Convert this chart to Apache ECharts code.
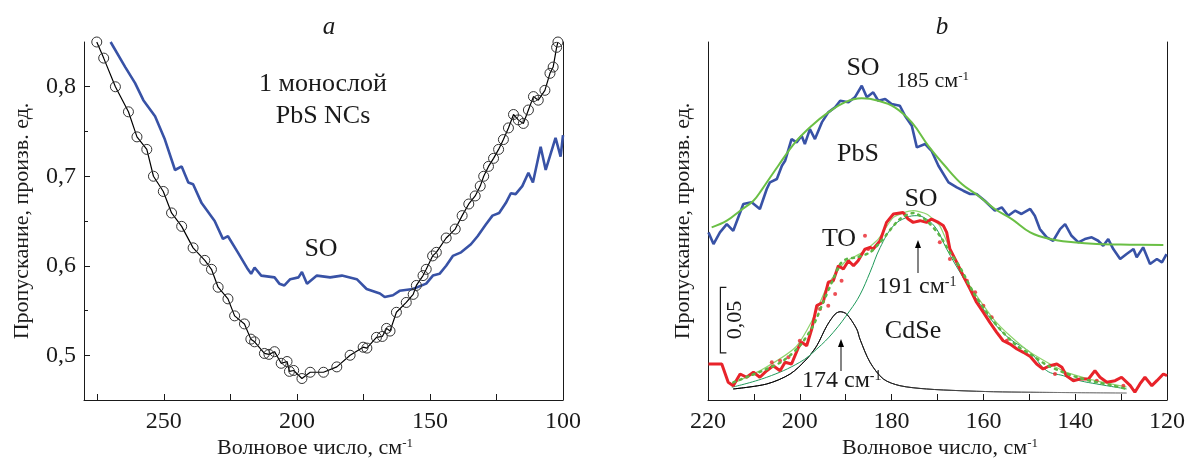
<!DOCTYPE html>
<html><head><meta charset="utf-8">
<script src="https://cdn.jsdelivr.net/npm/echarts@6/dist/echarts.min.js"></script>
<style>html,body{margin:0;padding:0;background:#fff}#c{width:1193px;height:460px}</style>
</head><body><div id="c"></div>
<script>
// ---------- Panel a data (x: cm-1, y: transmission) ----------
const aBlue = [[270.0,0.850],[264.5,0.822],[260.8,0.804],[257.7,0.785],[253.3,0.767],[249.6,0.741],[245.8,0.707],[243.3,0.711],[240.8,0.693],[239.0,0.691],[235.8,0.670],[230.9,0.650],[227.8,0.630],[225.9,0.633],[222.2,0.615],[218.4,0.596],[217.2,0.591],[215.9,0.598],[213.4,0.589],[208.4,0.587],[206.6,0.580],[204.7,0.578],[202.5,0.585],[199.4,0.587],[198.1,0.593],[196.2,0.580],[192.5,0.589],[187.5,0.587],[183.1,0.589],[177.5,0.585],[173.8,0.574],[168.8,0.569],[167.0,0.565],[163.9,0.567],[161.4,0.572],[156.4,0.574],[151.4,0.580],[148.9,0.589],[146.4,0.591],[143.9,0.600],[141.4,0.611],[138.3,0.615],[134.6,0.624],[132.1,0.633],[129.0,0.646],[126.5,0.656],[124.0,0.659],[121.5,0.670],[119.6,0.681],[117.8,0.680],[115.3,0.689],[113.0,0.704],[111.3,0.693],[108.4,0.733],[106.5,0.707],[102.8,0.743],[100.9,0.722],[100.0,0.746]];
const aBlack = [[275.2,0.850],[272.6,0.832],[268.2,0.800],[263.3,0.772],[260.1,0.744],[256.4,0.730],[253.9,0.700],[250.2,0.683],[247.1,0.659],[243.3,0.644],[239.0,0.620],[234.6,0.606],[232.1,0.596],[229.6,0.576],[225.9,0.563],[223.4,0.544],[219.7,0.535],[217.3,0.518],[215.9,0.515],[212.2,0.502],[210.5,0.501],[208.4,0.504],[205.9,0.491],[203.7,0.493],[202.8,0.482],[201.2,0.483],[198.1,0.474],[195.0,0.481],[190.0,0.481],[185.0,0.487],[180.0,0.500],[175.1,0.509],[173.7,0.508],[170.1,0.520],[167.9,0.521],[166.3,0.530],[165.0,0.527],[162.6,0.548],[158.9,0.559],[156.3,0.568],[155.1,0.578],[152.6,0.589],[151.4,0.596],[149.0,0.611],[147.6,0.615],[143.9,0.631],[140.5,0.641],[137.9,0.656],[135.4,0.669],[133.0,0.678],[131.1,0.689],[129.8,0.700],[128.0,0.711],[126.1,0.720],[124.2,0.730],[122.4,0.741],[120.5,0.754],[118.6,0.769],[116.8,0.763],[114.9,0.759],[113.0,0.774],[111.1,0.789],[109.3,0.785],[106.8,0.796],[104.9,0.815],[103.7,0.822],[102.4,0.844],[101.9,0.850]];
const aXLabels = [100,150,200,250];
const aXMinor = [125,175,225,275];
const aYLabels = [0.5,0.6,0.7,0.8];
const aYMinor = [0.55,0.65,0.75];

// ---------- Panel b data (x: cm-1, y: transmission, arbitrary offset) ----------
const bBlue = [[219.9,0.1276],[218.8,0.1187],[217.4,0.1276],[215.9,0.1339],[214.5,0.1288],[212.3,0.1492],[210.5,0.1505],[208.7,0.1454],[207.2,0.1606],[206.5,0.1657],[205.0,0.1682],[203.9,0.1783],[203.2,0.1821],[201.8,0.1986],[200.7,0.1961],[199.6,0.2011],[198.9,0.1948],[197.8,0.2062],[196.7,0.1986],[195.2,0.2113],[193.8,0.2189],[192.3,0.2228],[191.2,0.2278],[189.4,0.2266],[188.0,0.2304],[186.5,0.2392],[185.4,0.2304],[184.0,0.2342],[182.9,0.2278],[181.4,0.2291],[180.0,0.2253],[178.2,0.2240],[177.1,0.2164],[175.6,0.2088],[174.5,0.1923],[172.7,0.1948],[171.3,0.1897],[169.8,0.1783],[167.6,0.1657],[165.8,0.1619],[164.4,0.1593],[162.9,0.1568],[161.5,0.1568],[159.7,0.1517],[157.5,0.1441],[156.0,0.1466],[154.6,0.1403],[153.1,0.1441],[151.7,0.1416],[149.8,0.1454],[148.8,0.1403],[147.7,0.1301],[146.2,0.1238],[144.8,0.1212],[143.3,0.1301],[142.2,0.1339],[140.8,0.1250],[139.3,0.1200],[137.9,0.1225],[136.4,0.1238],[135.0,0.1212],[133.9,0.1174],[132.8,0.1225],[131.7,0.1149],[130.2,0.1073],[128.8,0.1111],[127.3,0.1149],[126.6,0.1086],[125.2,0.1162],[123.7,0.1035],[122.2,0.1073],[121.1,0.1048],[120.1,0.1111]];
const bPbsFit = [[219.2,0.1314],[215.9,0.1365],[213.0,0.1441],[210.1,0.1517],[208.3,0.1600],[204.7,0.1783],[201.0,0.1961],[197.4,0.2088],[193.8,0.2189],[190.2,0.2266],[186.5,0.2296],[182.9,0.2278],[179.3,0.2228],[175.6,0.2113],[172.0,0.1935],[168.4,0.1783],[164.7,0.1644],[161.1,0.1555],[157.5,0.1454],[153.8,0.1377],[149.8,0.1276],[145.5,0.1225],[140.4,0.1200],[135.3,0.1187],[128.1,0.1182],[120.8,0.1180]];
const bRed = [[219.9,0.0274],[217.0,0.0274],[215.6,0.0135],[214.5,0.0109],[213.0,0.0198],[211.6,0.0173],[210.1,0.0211],[208.7,0.0173],[207.2,0.0223],[205.8,0.0261],[204.3,0.0223],[203.2,0.0287],[201.8,0.0274],[200.3,0.0401],[199.6,0.0439],[198.5,0.0413],[197.4,0.0540],[196.3,0.0718],[194.9,0.0744],[193.8,0.0896],[192.7,0.0908],[191.6,0.1022],[190.5,0.0997],[189.4,0.1060],[188.3,0.1022],[187.3,0.1060],[185.8,0.1149],[184.7,0.1162],[184.0,0.1149],[182.5,0.1212],[181.1,0.1352],[179.6,0.1416],[177.5,0.1428],[176.4,0.1377],[175.3,0.1352],[173.8,0.1365],[172.4,0.1352],[171.3,0.1377],[169.8,0.1352],[168.7,0.1326],[168.0,0.1276],[167.3,0.1149],[165.8,0.1048],[164.4,0.0946],[162.9,0.0845],[161.5,0.0744],[160.0,0.0667],[158.6,0.0591],[157.1,0.0515],[155.7,0.0451],[154.2,0.0426],[152.7,0.0388],[151.3,0.0363],[149.8,0.0331],[148.4,0.0274],[147.0,0.0236],[145.5,0.0261],[144.0,0.0274],[142.9,0.0249],[141.9,0.0185],[140.4,0.0147],[139.0,0.0160],[137.1,0.0160],[135.7,0.0223],[134.6,0.0173],[133.1,0.0135],[131.3,0.0147],[129.9,0.0173],[128.0,0.0109],[127.0,0.0059],[125.9,0.0122],[124.8,0.0173],[123.3,0.0109],[122.2,0.0147],[120.8,0.0198],[120.0,0.0185]];
const bRedDots = [[206.1,0.0287],[204.3,0.0299],[202.5,0.0325],[200.0,0.0451],[195.6,0.0693],[193.8,0.0718],[192.3,0.0807],[190.9,0.0908],[185.8,0.1250],[185.1,0.1149],[169.5,0.1200],[167.3,0.1073],[163.6,0.0908],[161.8,0.0820],[160.0,0.0718],[158.2,0.0629],[154.9,0.0451],[144.4,0.0198],[135.3,0.0147],[129.5,0.0109]];
const bFitDotted = [[214.5,0.0134],[210.8,0.0185],[207.2,0.0236],[203.6,0.0299],[200.0,0.0413],[197.1,0.0565],[194.9,0.0744],[192.7,0.0921],[191.2,0.1035],[189.8,0.1073],[187.6,0.1086],[184.7,0.1124],[182.5,0.1200],[178.2,0.1377],[175.3,0.1423],[172.4,0.1365],[169.5,0.1250],[167.3,0.1124],[165.1,0.1010],[162.2,0.0820],[159.3,0.0667],[156.4,0.0540],[152.7,0.0413],[149.8,0.0350],[146.2,0.0266],[142.6,0.0211],[139.0,0.0167],[135.3,0.0135],[131.7,0.0109],[128.8,0.0084]];
const bFitSum = [[214.8,0.0122],[208.3,0.0230],[201.0,0.0400],[197.4,0.0600],[193.8,0.0880],[190.2,0.1050],[186.5,0.1120],[182.9,0.1225],[179.6,0.1390],[175.3,0.1441],[172.4,0.1416],[169.5,0.1326],[167.3,0.1149],[164.4,0.0946],[161.5,0.0794],[157.8,0.0616],[154.2,0.0489],[149.8,0.0363],[142.6,0.0221],[135.3,0.0145],[128.8,0.0099]];
const bSoComp = [[214.8,0.0097],[207.2,0.0173],[200.0,0.0287],[196.3,0.0388],[192.7,0.0515],[189.1,0.0680],[186.9,0.0800],[184.7,0.0972],[182.5,0.1160],[179.6,0.1326],[176.7,0.1390],[174.5,0.1403],[172.4,0.1377],[170.2,0.1301],[168.0,0.1149],[165.1,0.0972],[161.5,0.0769],[157.8,0.0591],[154.2,0.0464],[149.8,0.0363],[146.2,0.0223],[142.6,0.0185],[139.0,0.0147],[135.3,0.0122],[128.8,0.0084]];
const bToComp = [[214.5,0.0084],[207.2,0.0122],[202.1,0.0198],[198.5,0.0312],[196.3,0.0413],[194.1,0.0565],[192.3,0.0654],[191.2,0.0672],[189.8,0.0654],[187.6,0.0540],[186.9,0.0464],[184.7,0.0287],[181.8,0.0160],[178.2,0.0109],[172.4,0.0084],[165.1,0.0071],[157.8,0.0063],[149.8,0.0059],[128.8,0.0053]];
const bXLabels = [120,140,160,180,200,220];
const bScaleBar = [0.0358, 0.0858]; // 0,05 scale bar (data units)

const F = 'Liberation Serif';
const INK = '#1a1a1a';
const BLUE = '#3852a6', RED = '#e8232a', GREEN = '#6abf45';

const chart = echarts.init(document.getElementById('c'), null, {renderer:'canvas'});

const fmtY = v => v.toFixed(1).replace('.', ',');
const near = (v, arr) => arr.some(a => Math.abs(a - v) < 1e-6);

const option = {
  animation: false,
  backgroundColor: '#fff',
  grid: [
    {left: 84, right: 630, top: 42, bottom: 60},
    {left: 708, right: 26, top: 42, bottom: 60}
  ],
  xAxis: [
    {gridIndex:0, type:'value', min:100, max:280, inverse:true, interval:25,
     axisLine:{show:true, lineStyle:{color:INK, width:1}},
     axisTick:{show:true, inside:true, length:6, lineStyle:{color:INK},
               customValues: aXLabels.concat(aXMinor)},
     axisLabel:{fontFamily:F, fontSize:24, color:INK, margin:10,
                customValues: aXLabels,
                formatter: v => near(v, aXLabels) ? String(v) : ''},
     splitLine:{show:false}},
    {gridIndex:1, type:'value', min:120, max:220, inverse:true, interval:10,
     axisLine:{show:true, lineStyle:{color:INK, width:1}},
     axisTick:{show:true, inside:true, length:6, lineStyle:{color:INK}},
     axisLabel:{fontFamily:F, fontSize:24, color:INK, margin:10,
                formatter: v => near(v, bXLabels) ? String(v) : ''},
     splitLine:{show:false}}
  ],
  yAxis: [
    {gridIndex:0, type:'value', min:0.45, max:0.85, interval:0.05, position:'left',
     axisLine:{show:true, lineStyle:{color:INK, width:1}},
     axisTick:{show:true, inside:true, length:6, lineStyle:{color:INK},
               customValues: aYLabels},
     axisLabel:{fontFamily:F, fontSize:24, color:INK, margin:8,
                customValues: aYLabels,
                formatter: v => near(v, aYLabels) ? fmtY(v) : ''},
     splitLine:{show:false}},
    {gridIndex:0, type:'value', min:0.45, max:0.85, interval:0.05, position:'left',
     axisLine:{show:false},
     axisTick:{show:true, inside:true, length:4, lineStyle:{color:INK}, customValues: aYMinor},
     axisLabel:{show:false}, splitLine:{show:false}},
    {gridIndex:0, type:'value', min:0.45, max:0.85, position:'right',
     axisLine:{show:true, lineStyle:{color:INK, width:1}},
     axisTick:{show:false}, axisLabel:{show:false}, splitLine:{show:false}},
    {gridIndex:1, type:'value', min:0, max:0.2725, position:'left',
     axisLine:{show:true, lineStyle:{color:INK, width:1}},
     axisTick:{show:false}, axisLabel:{show:false}, splitLine:{show:false}},
    {gridIndex:1, type:'value', min:0, max:0.2725, position:'right',
     axisLine:{show:true, lineStyle:{color:INK, width:1}},
     axisTick:{show:false}, axisLabel:{show:false}, splitLine:{show:false}}
  ],
  series: [
    {name:'a-blue', type:'line', xAxisIndex:0, yAxisIndex:0, data:aBlue, showSymbol:false,
     lineStyle:{color:BLUE, width:2.6}, clip:true, z:2},
    {name:'a-black', type:'line', xAxisIndex:0, yAxisIndex:0, data:aBlack,
     symbol:'circle', symbolSize:10, showSymbol:true, showAllSymbol:true,
     itemStyle:{color:'rgba(0,0,0,0)', borderColor:'#333', borderWidth:1},
     lineStyle:{color:'#000', width:1.2}, clip:true, z:3},

    {name:'b-blue', type:'line', xAxisIndex:1, yAxisIndex:3, data:bBlue, showSymbol:false,
     lineStyle:{color:BLUE, width:2.6}, clip:true, z:2},
    {name:'b-pbsfit', type:'line', xAxisIndex:1, yAxisIndex:3, data:bPbsFit, showSymbol:false, smooth:0.4,
     lineStyle:{color:GREEN, width:2}, clip:true, z:3},
    {name:'b-to', type:'line', xAxisIndex:1, yAxisIndex:3, data:bToComp, showSymbol:false, smooth:0.3,
     lineStyle:{width:1, color:new echarts.graphic.LinearGradient(0,0,1,0,[{offset:0,color:'#000'},{offset:0.4,color:'#222'},{offset:1,color:'#999'}])}, clip:true, z:3},
    {name:'b-so', type:'line', xAxisIndex:1, yAxisIndex:3, data:bSoComp, showSymbol:false, smooth:0.4,
     lineStyle:{color:'#1f9a5a', width:1}, clip:true, z:3},
    {name:'b-sum', type:'line', xAxisIndex:1, yAxisIndex:3, data:bFitSum, showSymbol:false, smooth:0.2,
     lineStyle:{color:'#8fd46e', width:1.2}, clip:true, z:3},
    {name:'b-red', type:'line', xAxisIndex:1, yAxisIndex:3, data:bRed, showSymbol:false,
     lineStyle:{color:RED, width:3}, clip:true, z:4},
    {name:'b-reddots', type:'scatter', xAxisIndex:1, yAxisIndex:3, data:bRedDots, symbolSize:4,
     itemStyle:{color:RED}, z:5},
    {name:'b-fitdotted', type:'line', xAxisIndex:1, yAxisIndex:3, data:bFitDotted, showSymbol:false, smooth:0.3,
     lineStyle:{color:'#5cb545', width:2.5, type:[2,5], cap:'round'}, clip:true, z:6}
  ]
};
chart.setOption(option);

function txt(x, y, text, size, extra) {
  return Object.assign({type:'text', x:x, y:y, z:100,
    style: Object.assign({text:text, fontFamily:F, fontSize:size, fill:INK, align:'center', verticalAlign:'middle'}, (extra && extra.style) || {})},
    extra && extra.el || {});
}
function supTxt(x, y, main, sup, size, align) {
  return {type:'text', x:x, y:y, z:100, style:{
    text:'{m|' + main + '}{s|' + sup + '}', align: align || 'center', verticalAlign:'middle',
    rich:{ m:{fontFamily:F, fontSize:size, fill:INK},
           s:{fontFamily:F, fontSize:Math.round(size*0.6), fill:INK, verticalAlign:'top'} }}};
}
function arrow(x, y1, y2) {
  return {type:'group', z:100, children:[
    {type:'line', shape:{x1:x, y1:y1, x2:x, y2:y2+6}, style:{stroke:'#333', lineWidth:1.2}},
    {type:'polygon', shape:{points:[[x, y2],[x-3, y2+8],[x+3, y2+8]]}, style:{fill:'#000'}}
  ]};
}

const p0 = chart.convertToPixel({xAxisIndex:1, yAxisIndex:3}, [217.3, bScaleBar[0]]);
const p1 = chart.convertToPixel({xAxisIndex:1, yAxisIndex:3}, [217.3, bScaleBar[1]]);

chart.setOption({graphic: [
  txt(329, 27, 'a', 25, {style:{fontStyle:'italic'}}),
  txt(942, 27, 'b', 25, {style:{fontStyle:'italic'}}),
  txt(22, 221, 'Пропускание, произв. ед.', 22, {el:{rotation:Math.PI/2}}),
  txt(683, 221, 'Пропускание, произв. ед.', 22, {el:{rotation:Math.PI/2}}),
  supTxt(315, 448, 'Волновое число, см', '-1', 22),
  supTxt(940, 448, 'Волновое число, см', '-1', 22),
  txt(323, 84, '1 монослой', 26),
  txt(323, 116, 'PbS NCs', 26),
  txt(321, 249, 'SO', 26),
  txt(863, 68, 'SO', 26),
  supTxt(896, 81, '185 см', '-1', 22, 'left'),
  txt(858, 154, 'PbS', 26),
  txt(921, 199, 'SO', 26),
  txt(839, 239, 'TO', 26),
  supTxt(877, 287, '191 см', '-1', 24, 'left'),
  txt(913, 331, 'CdSe', 26),
  supTxt(802, 381, '174 см', '-1', 24, 'left'),
  arrow(918, 273, 240),
  arrow(841, 371, 339),
  {type:'polyline', z:100, shape:{points:[[p0[0]+6, p1[1]],[p0[0], p1[1]],[p0[0], p0[1]],[p0[0]+6, p0[1]]]},
   style:{stroke:INK, lineWidth:1.2, fill:null}},
  txt(p0[0]+15, (p0[1]+p1[1])/2, '0,05', 22, {el:{rotation:Math.PI/2}})
]});
</script>
</body></html>
